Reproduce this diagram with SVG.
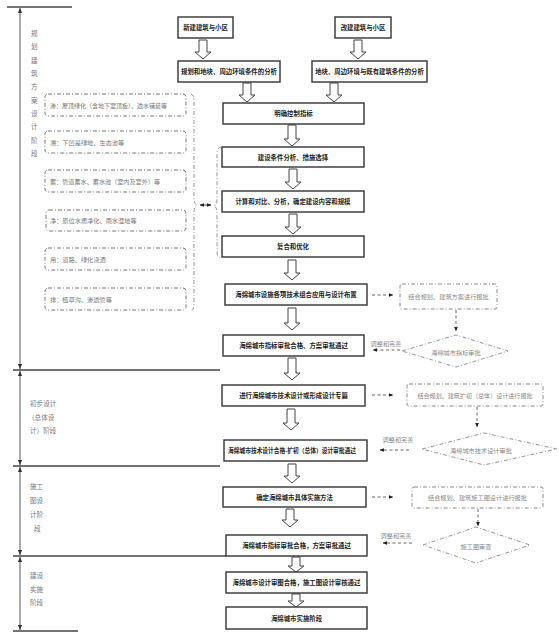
<svg xmlns="http://www.w3.org/2000/svg" width="559" height="637" viewBox="0 0 559 637">
<style>
text{font-family:"Noto Sans CJK SC","Noto Sans",sans-serif;}
.box{fill:#fff;stroke:#333;stroke-width:1.4;}
.bt{font-size:6.4px;font-weight:bold;fill:#222;text-anchor:middle;dominant-baseline:central;}
.ha{fill:#fff;stroke:#444;stroke-width:1;}
.lb{fill:#fff;stroke:#777;stroke-width:1;stroke-dasharray:4 2 1 2;}
.lt{font-size:6.2px;fill:#777;dominant-baseline:central;}
.rb{fill:#fff;stroke:#888;stroke-width:1;stroke-dasharray:4 2 1 2;}
.rt{font-size:6.2px;fill:#888;text-anchor:middle;dominant-baseline:central;}
.dl{fill:none;stroke:#555;stroke-width:0.9;stroke-dasharray:3 2.5;}
.dd{fill:#fff;stroke:#888;stroke-width:0.9;stroke-dasharray:4 2 1 2;}
.st{font-size:6.6px;fill:#777;dominant-baseline:central;}
.sl{stroke:#444;stroke-width:1.6;}
.vl{stroke:#555;stroke-width:1;}
.br{fill:none;stroke:#888;stroke-width:0.9;stroke-dasharray:4 2 1 2;}
</style>
<defs>
<marker id="ah" viewBox="0 0 6 6" refX="5.5" refY="3" markerWidth="5" markerHeight="5" orient="auto-start-reverse"><path d="M0,0.5 L6,3 L0,5.5 Z" fill="#222"/></marker>
<marker id="va" viewBox="0 0 6 6" refX="6" refY="3" markerWidth="5" markerHeight="5" orient="auto-start-reverse"><path d="M0,0.5 L6,3 L0,5.5 Z" fill="#333"/></marker>
</defs>

<g id="stages">
<line class="sl" x1="7" y1="7" x2="72" y2="7"/>
<line class="sl" x1="13" y1="370" x2="220" y2="370"/>
<line class="sl" x1="13" y1="466" x2="220" y2="466"/>
<line class="sl" x1="13" y1="556" x2="226" y2="556"/>
<line class="sl" x1="13" y1="631" x2="78" y2="631"/>
<line class="vl" x1="20" y1="8" x2="20" y2="369" marker-start="url(#va)" marker-end="url(#va)"/>
<line class="vl" x1="20" y1="371" x2="20" y2="465" marker-start="url(#va)" marker-end="url(#va)"/>
<line class="vl" x1="20" y1="467" x2="20" y2="555" marker-start="url(#va)" marker-end="url(#va)"/>
<line class="vl" x1="20" y1="557" x2="20" y2="630" marker-start="url(#va)" marker-end="url(#va)"/>
<g class="st">
<text x="31" y="33">规</text><text x="31" y="46">划</text><text x="31" y="60">建</text><text x="31" y="73">筑</text><text x="31" y="86">方</text><text x="31" y="100">案</text><text x="31" y="113">设</text><text x="31" y="126">计</text><text x="31" y="140">阶</text><text x="31" y="153">段</text>
<text x="30" y="403">初步设计</text><text x="28" y="417">（总体设</text><text x="30" y="430">计）阶段</text>
<text x="30" y="486">施工</text><text x="30" y="500">图设</text><text x="30" y="514">计阶</text><text x="34" y="528">段</text>
<text x="30" y="575">建设</text><text x="30" y="589">实施</text><text x="30" y="602">阶段</text>
</g>
</g>

<g id="connectors">
<path class="ha" d="M199,40 H207 V52 H211 L203,59 L195,52 H199 Z"/>
<path class="ha" d="M354,40 H362 V52 H366 L358,59 L350,52 H354 Z"/>
<path class="ha" d="M243,83 H251 V95 H255 L247,102 L239,95 H243 Z"/>
<path class="ha" d="M330,83 H338 V95 H342 L334,102 L326,95 H330 Z"/>
<path class="ha" d="M288,125 H296 V139 H300 L292,146 L284,139 H288 Z"/>
<path class="ha" d="M289,169 H297 V182 H301 L293,189 L285,182 H289 Z"/>
<path class="ha" d="M289,214 H297 V227 H301 L293,234 L285,227 H289 Z"/>
<path class="ha" d="M288,260 H296 V273 H300 L292,280 L284,273 H288 Z"/>
<path class="ha" d="M288,308 H296 V323 H300 L292,330 L284,323 H288 Z"/>
<path class="ha" d="M288,358 H296 V373 H300 L292,380 L284,373 H288 Z"/>
<path class="ha" d="M287,409 H295 V423 H299 L291,430 L283,423 H287 Z"/>
<path class="ha" d="M288,464 H296 V476 H300 L292,483 L284,476 H288 Z"/>
<path class="ha" d="M286,509 H294 V520 H298 L290,527 L282,520 H286 Z"/>
<path class="ha" d="M292,557 H300 V566 H304 L296,572 L288,566 H292 Z"/>
<path class="ha" d="M292,594 H300 V601 H304 L296,607 L288,601 H292 Z"/>

<line class="dl" x1="372" y1="295" x2="393" y2="295" marker-end="url(#ah)"/>
<line class="dl" x1="372" y1="395" x2="393" y2="395" marker-end="url(#ah)"/>
<line class="dl" x1="372" y1="497" x2="393" y2="497" marker-end="url(#ah)"/>
<line class="dl" x1="456" y1="310" x2="456" y2="331" marker-end="url(#ah)"/>
<line class="dl" x1="477" y1="407" x2="477" y2="427" marker-end="url(#ah)"/>
<line class="dl" x1="478" y1="509" x2="478" y2="526" marker-end="url(#ah)"/>
<line class="dl" x1="400" y1="350" x2="373" y2="350" marker-end="url(#ah)"/>
<line class="dl" x1="409" y1="450" x2="380" y2="450" marker-end="url(#ah)"/>
<line class="dl" x1="412" y1="543" x2="383" y2="543" marker-end="url(#ah)"/>
<text class="rt" x="386" y="343">调整和完善</text>
<text class="rt" x="398" y="439">调整和完善</text>
<text class="rt" x="396" y="535">调整和完善</text>

<path class="br" d="M191,94 Q194,95 194,100 V198 Q194,204 197,205 Q194,206 194,212 V304 Q194,310 191,311"/>
<line x1="200" y1="205" x2="211" y2="205" stroke="#333" stroke-width="0.9" marker-start="url(#ah)" marker-end="url(#ah)"/>
<path class="br" d="M221,147 Q217,148 217,153 V199 Q217,205 214,206 Q217,207 217,213 V252 Q217,257 221,258"/>
</g>

<g id="n1"><rect class="box" x="178" y="17" width="55" height="21"/><text class="bt" x="205.5" y="27.5">新建建筑与小区</text></g>
<g id="n2"><rect class="box" x="335" y="17" width="56" height="21"/><text class="bt" x="363" y="27.5">改建建筑与小区</text></g>
<g id="n3"><rect class="box" x="178" y="61" width="102" height="21"/><text class="bt" x="229" y="71.5">规划和地块、周边环境条件的分析</text></g>
<g id="n4"><rect class="box" x="312" y="61" width="115" height="21"/><text class="bt" x="369.5" y="71.5">地块、周边环境与既有建筑条件的分析</text></g>
<g id="n5"><rect class="box" x="223" y="103" width="141" height="21"/><text class="bt" x="293.5" y="113.5">明确控制指标</text></g>
<g id="n6"><rect class="box" x="222" y="147" width="142" height="20"/><text class="bt" x="293" y="157">建设条件分析、措施选择</text></g>
<g id="n7"><rect class="box" x="222" y="191" width="142" height="21"/><text class="bt" x="293" y="201.5">计算和对比、分析，确定建设内容和规模</text></g>
<g id="n8"><rect class="box" x="222" y="236" width="142" height="21"/><text class="bt" x="293" y="246.5">复合和优化</text></g>
<g id="n9"><rect class="box" x="225" y="284" width="142" height="21"/><text class="bt" x="296" y="294.5">海绵城市设施各项技术组合应用与设计布置</text></g>
<g id="n10"><rect class="box" x="223" y="335" width="141" height="21"/><text class="bt" x="293.5" y="345.5">海绵城市指标审批合格、方案审批通过</text></g>
<g id="n11"><rect class="box" x="222" y="385" width="143" height="21"/><text class="bt" x="293.5" y="395.5">进行海绵城市技术设计或形成设计专篇</text></g>
<g id="n12"><rect class="box" x="224" y="440" width="143" height="21"/><text class="bt" x="292" y="450.5" textLength="128" lengthAdjust="spacingAndGlyphs">海绵城市技术设计合格-扩初（总体）设计审批通过</text></g>
<g id="n13"><rect class="box" x="223" y="487" width="143" height="20"/><text class="bt" x="294.5" y="497">确定海绵城市具体实施方法</text></g>
<g id="n14"><rect class="box" x="226" y="535" width="141" height="21"/><text class="bt" x="296.5" y="545.5">海绵城市指标审批合格，方案审批通过</text></g>
<g id="n15"><rect class="box" x="226" y="572" width="141" height="21"/><text class="bt" x="296.5" y="582.5">海绵城市设计审图合格，施工图设计审核通过</text></g>
<g id="n16"><rect class="box" x="226" y="607" width="141" height="22"/><text class="bt" x="296.5" y="618">海绵城市实施阶段</text></g>

<g id="l1"><rect class="lb" x="45" y="94" width="141" height="22" rx="3"/><text class="lt" x="50" y="105" textLength="117" lengthAdjust="spacingAndGlyphs">渗：屋顶绿化（含地下室顶板）、透水铺装等</text></g>
<g id="l2"><rect class="lb" x="45" y="131" width="141" height="22" rx="3"/><text class="lt" x="50" y="142">滞：下凹是绿地、生态池等</text></g>
<g id="l3"><rect class="lb" x="45" y="170" width="141" height="22" rx="3"/><text class="lt" x="50" y="181" textLength="110" lengthAdjust="spacingAndGlyphs">蓄：管道蓄水、蓄水池（室内及室外）等</text></g>
<g id="l4"><rect class="lb" x="46" y="210" width="140" height="21" rx="3"/><text class="lt" x="50" y="220.5">净：原位水质净化、雨水湿地等</text></g>
<g id="l5"><rect class="lb" x="45" y="248" width="141" height="22" rx="3"/><text class="lt" x="50" y="259">用：道路、绿化浇洒</text></g>
<g id="l6"><rect class="lb" x="45" y="288" width="141" height="22" rx="3"/><text class="lt" x="50" y="299">排：植草沟、渗透管等</text></g>

<g id="r1"><rect class="rb" x="400" y="284" width="97" height="25" rx="2"/><text class="rt" x="448.5" y="296.5">结合规划、建筑方案进行报批</text></g>
<g id="r2"><rect class="rb" x="407" y="384" width="136" height="22" rx="2"/><text class="rt" x="475" y="395" textLength="115" lengthAdjust="spacingAndGlyphs">结合规划、建筑扩初（总体）设计进行报批</text></g>
<g id="r3"><rect class="rb" x="412" y="487" width="131" height="21" rx="2"/><text class="rt" x="477.5" y="497.5">结合规划、建筑施工图设计进行报批</text></g>

<g id="d1"><polygon class="dd" points="402,351 456,335 508,351 456,367"/><text class="rt" x="456" y="352">海绵城市指标审批</text></g>
<g id="d2"><polygon class="dd" points="422,449 484,433 557,449 484,465"/><text class="rt" x="481" y="450">海绵城市技术设计审批</text></g>
<g id="d3"><polygon class="dd" points="423,545 476,527 530,545 476,563"/><text class="rt" x="476" y="546">施工图审查</text></g>
</svg>
